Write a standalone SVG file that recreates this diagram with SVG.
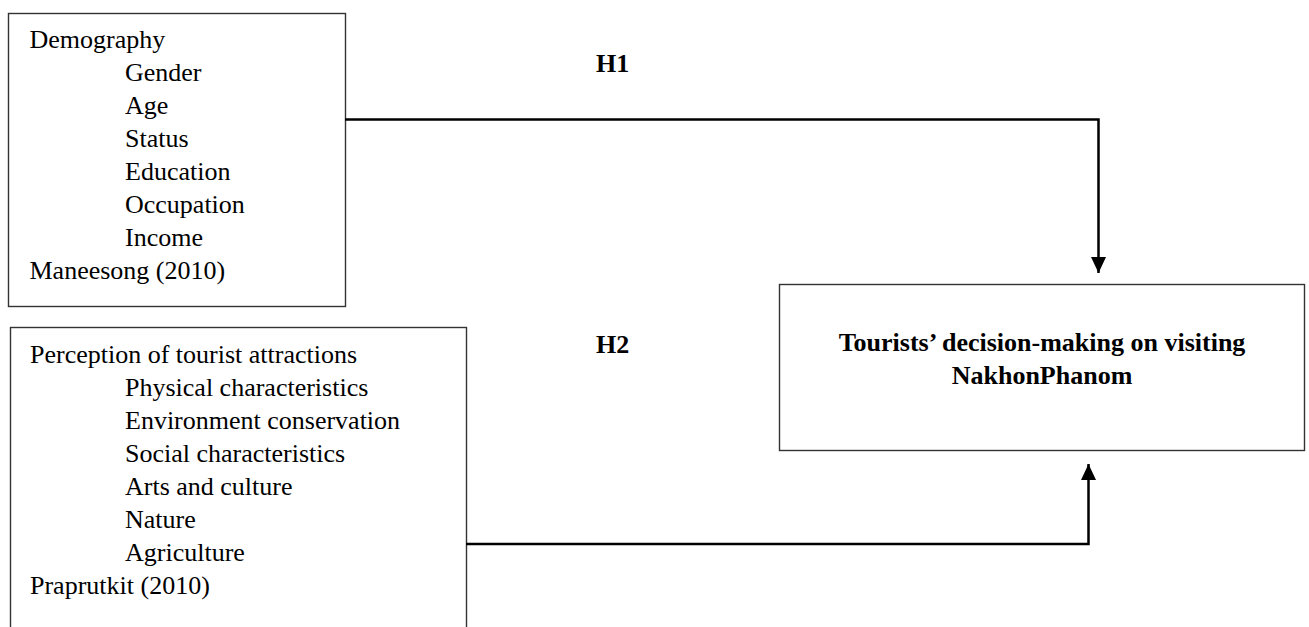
<svg xmlns="http://www.w3.org/2000/svg" width="1309" height="627" viewBox="0 0 1309 627">
<style>
.box{fill:#fff;stroke:#333;stroke-width:1.4}
.t{font-family:"Liberation Serif","Times New Roman",serif;font-size:26px;fill:#000}
.b{font-weight:bold}
.conn{fill:none;stroke:#000;stroke-width:2.5}
</style>
<defs>
<marker id="arr" markerUnits="userSpaceOnUse" markerWidth="16" markerHeight="16" refX="16" refY="7.5" orient="auto">
<path d="M0,0 L16,7.5 L0,15 Z" fill="#000"/>
</marker>
</defs>
<rect width="1309" height="627" fill="#fff"/>
<g id="demography">
<rect class="box" x="8.5" y="13.5" width="337" height="293"/>
<text class="t" x="29.5" y="48">Demography</text>
<text class="t" x="125" y="81">Gender</text>
<text class="t" x="125" y="114">Age</text>
<text class="t" x="125" y="147">Status</text>
<text class="t" x="125" y="180">Education</text>
<text class="t" x="125" y="213">Occupation</text>
<text class="t" x="125" y="246">Income</text>
<text class="t" x="29.5" y="279">Maneesong (2010)</text>
</g>
<g id="perception">
<rect class="box" x="10.5" y="327.5" width="456" height="310"/>
<text class="t" x="30" y="363">Perception of tourist attractions</text>
<text class="t" x="125" y="396">Physical characteristics</text>
<text class="t" x="125" y="429">Environment conservation</text>
<text class="t" x="125" y="462">Social characteristics</text>
<text class="t" x="125" y="495">Arts and culture</text>
<text class="t" x="125" y="528">Nature</text>
<text class="t" x="125" y="561">Agriculture</text>
<text class="t" x="30" y="594">Praprutkit (2010)</text>
</g>
<g id="decision">
<rect class="box" x="779.5" y="284.5" width="525" height="166"/>
<text class="t b" x="1042" y="351" text-anchor="middle">Tourists’ decision-making on visiting</text>
<text class="t b" x="1042" y="384" text-anchor="middle">NakhonPhanom</text>
</g>
<g id="connectors">
<path class="conn" d="M345,119.5 H1098.5 V273" marker-end="url(#arr)"/>
<path class="conn" d="M466,544 H1088.5 V464" marker-end="url(#arr)"/>
<text class="t b" x="596" y="72">H1</text>
<text class="t b" x="596" y="353">H2</text>
</g>
</svg>
